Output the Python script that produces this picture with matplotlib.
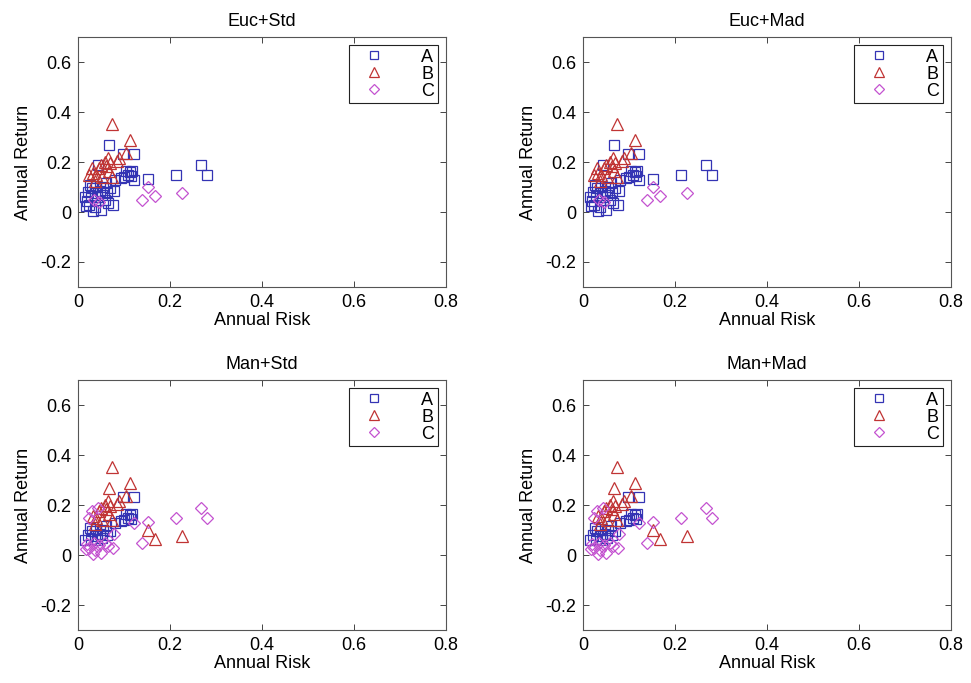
import matplotlib
matplotlib.use("Agg")
import matplotlib.pyplot as plt
import numpy as np

plt.rcParams['font.family'] = ['Liberation Sans', 'DejaVu Sans']

# Portfolio annual risk / return (same portfolios in every panel)
risk = [0.073, 0.113, 0.067, 0.104, 0.097, 0.122, 0.267, 0.281, 0.214, 0.153,
        0.122, 0.077, 0.079, 0.140, 0.153, 0.167, 0.227,
        0.105, 0.113, 0.118, 0.100, 0.108, 0.093, 0.081, 0.115,
        0.066, 0.058, 0.050, 0.062, 0.070, 0.045, 0.068, 0.040, 0.033, 0.052,
        0.075, 0.085, 0.090, 0.038,
        0.044,
        0.015, 0.020, 0.022, 0.025, 0.028, 0.030, 0.032, 0.034, 0.036, 0.038,
        0.040, 0.042, 0.045, 0.048, 0.050, 0.052, 0.055, 0.058, 0.060, 0.063,
        0.066, 0.070, 0.026, 0.018,
        0.024, 0.030]
ret = [0.353, 0.290, 0.267, 0.237, 0.231, 0.231, 0.188, 0.149, 0.149, 0.133,
       0.128, 0.027, 0.084, 0.048, 0.100, 0.065, 0.075,
       0.165, 0.160, 0.165, 0.140, 0.150, 0.135, 0.130, 0.145,
       0.217, 0.200, 0.190, 0.185, 0.195, 0.175, 0.165, 0.150, 0.157, 0.140,
       0.140, 0.205, 0.215, 0.125,
       0.190,
       0.060, 0.045, 0.080, 0.030, 0.065, 0.095, 0.004, 0.050, 0.075, 0.020,
       0.105, 0.060, 0.040, 0.085, 0.010, 0.070, 0.100, 0.050, 0.115, 0.080,
       0.035, 0.095, 0.110, 0.025,
       0.150, 0.175]

# Cluster labels for the Euclidean and Manhattan distance variants
labels_euc = list("BBABAAAAAAAAACCCC" + "AAAAAAAA" + "BBBBBBBBBBBBBB" + "A"
                  + "AAAAAAACAAAACAAAAAAAAAAA" + "BB")
labels_man = list("BBBBAACCCCCCCCBBB" + "AAAAAAAA" + "BBBBBBBBBBBBBB" + "C"
                  + "ACACAACCACAACACAACAACAAC" + "CC")

titles = ["Euc+Std", "Euc+Mad", "Man+Std", "Man+Mad"]
panel_labels = [labels_euc, labels_euc, labels_man, labels_man]

groups = ["A", "B", "C"]
markers = {"A": "s", "B": "^", "C": "D"}
colors = {"A": "#3434b4", "B": "#c03434", "C": "#c452d0"}
msizes = {"A": 7.5, "B": 9, "C": 6.5}

xticks = [0, 0.2, 0.4, 0.6, 0.8]
yticks = [-0.2, 0, 0.2, 0.4, 0.6]

fig = plt.figure(figsize=(9.71, 6.83), dpi=100)
lefts = [0.0803, 0.6004]
bottoms = [0.5798, 0.0776]
w, h = 0.379, 0.366
fs = 13

risk_arr = np.array(risk)
ret_arr = np.array(ret)

for i, (title, labs) in enumerate(zip(titles, panel_labels)):
    ax = fig.add_axes([lefts[i % 2], bottoms[i // 2], w, h])
    labs = np.array(labs)
    for g in groups:
        m = labs == g
        ax.plot(risk_arr[m], ret_arr[m], linestyle="none", marker=markers[g],
                markersize=msizes[g], markerfacecolor="none",
                markeredgecolor=colors[g], markeredgewidth=0.9, label=g)
    ax.set_xlim(0, 0.8)
    ax.set_ylim(-0.3, 0.7)
    ax.set_xticks(xticks)
    ax.set_xticklabels([f"{t:g}" for t in xticks])
    ax.set_yticks(yticks)
    ax.set_yticklabels([f"{t:g}" for t in yticks])
    ax.tick_params(direction="in", top=True, right=True, length=4,
                   width=0.7, color="#444444", labelsize=fs, pad=5)
    for sp in ax.spines.values():
        sp.set_color("#555555")
        sp.set_linewidth(0.8)
    ax.set_title(title, fontsize=fs, pad=8)
    ax.set_xlabel("Annual Risk", fontsize=fs, labelpad=1)
    ax.set_ylabel("Annual Return", fontsize=fs, labelpad=6)
    leg = ax.legend(loc="upper right", fancybox=False, framealpha=1,
                    edgecolor="#222222", fontsize=fs, markerscale=0.75,
                    handlelength=2.4, handletextpad=1.4, borderpad=0.2,
                    labelspacing=0.0, borderaxespad=0.45)
    leg.get_frame().set_linewidth(0.8)

fig.savefig("out.png", dpi=100)
